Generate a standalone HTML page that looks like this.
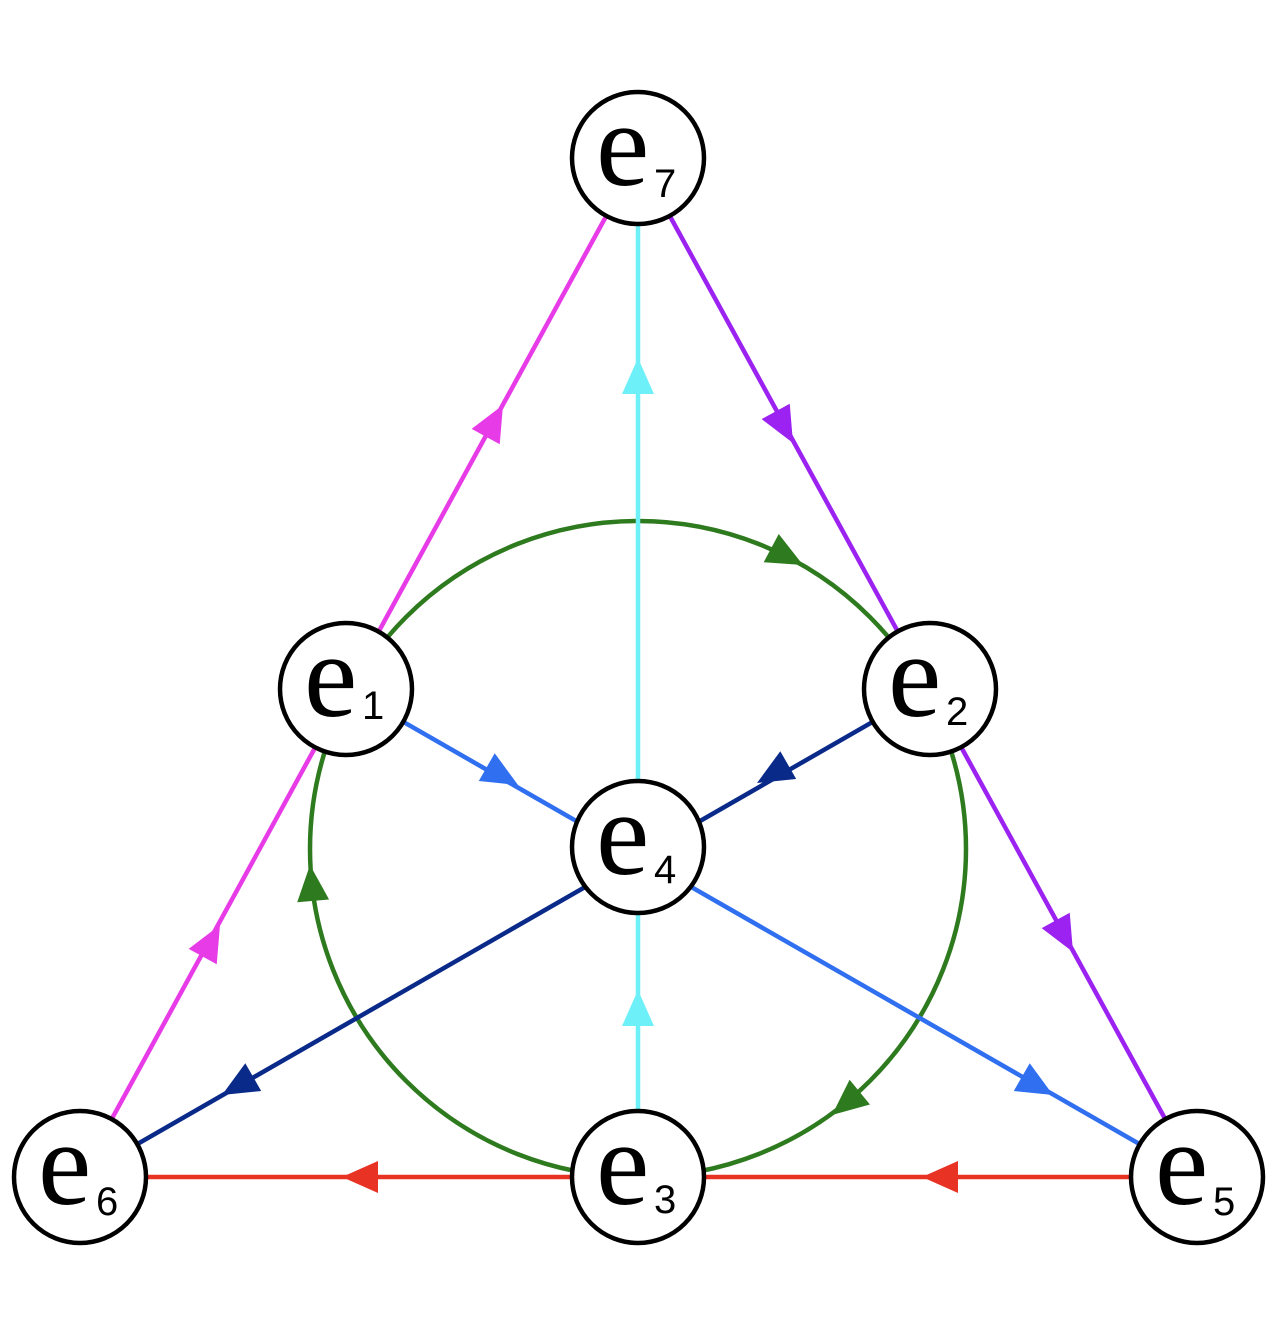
<!DOCTYPE html>
<html><head><meta charset="utf-8"><style>
html,body{margin:0;padding:0;background:#fff;}
svg{display:block;}
.e{font-family:"Liberation Serif",serif;font-size:120px;}
.s{font-family:"Liberation Sans",sans-serif;font-size:40px;}
</style></head><body>
<svg width="1280" height="1328" viewBox="0 0 1280 1328" xmlns="http://www.w3.org/2000/svg">
<defs>
<polygon id="ah" points="0,0 -36,-16 -36,16"/>
</defs>
<g stroke-width="4.5" fill="none">
<circle cx="638" cy="849" r="328" stroke="#2e7a1e"/>
<line x1="80" y1="1177" x2="638" y2="158" stroke="#e83be8"/>
<line x1="638" y1="158" x2="1197" y2="1177" stroke="#9b22f0"/>
<line x1="638" y1="1177" x2="638" y2="158" stroke="#6ef0f8"/>
<line x1="346" y1="689" x2="1197" y2="1177" stroke="#2f6ff0"/>
<line x1="930" y1="689" x2="80" y2="1177" stroke="#0a2a8a"/>
<line x1="80" y1="1177" x2="1197" y2="1177" stroke="#e83224"/>
</g>
<g>
<use href="#ah" fill="#e83be8" transform="translate(503,405) rotate(-61.3)"/>
<use href="#ah" fill="#e83be8" transform="translate(220,925) rotate(-61.3)"/>
<use href="#ah" fill="#6ef0f8" transform="translate(638,358) rotate(-90)"/>
<use href="#ah" fill="#6ef0f8" transform="translate(638,990) rotate(-90)"/>
<use href="#ah" fill="#9b22f0" transform="translate(793,443) rotate(61.3)"/>
<use href="#ah" fill="#9b22f0" transform="translate(1073,952) rotate(61.3)"/>
<use href="#ah" fill="#2f6ff0" transform="translate(518,785) rotate(29.8)"/>
<use href="#ah" fill="#2f6ff0" transform="translate(1053,1095) rotate(29.8)"/>
<use href="#ah" fill="#0a2a8a" transform="translate(757,783) rotate(150.2)"/>
<use href="#ah" fill="#0a2a8a" transform="translate(222,1095) rotate(150.2)"/>
<use href="#ah" fill="#e83224" transform="translate(342,1177) rotate(180)"/>
<use href="#ah" fill="#e83224" transform="translate(922,1177) rotate(180)"/>
<use href="#ah" fill="#2e7a1e" transform="translate(803,565) rotate(28)"/>
<use href="#ah" fill="#2e7a1e" transform="translate(832,1115) rotate(140.5)"/>
<use href="#ah" fill="#2e7a1e" transform="translate(310,865) rotate(-95)"/>
</g>
<g fill="#fff" stroke="#000" stroke-width="4.5">
<circle cx="638" cy="158" r="66"/>
<circle cx="346" cy="689" r="66"/>
<circle cx="930" cy="689" r="66"/>
<circle cx="638" cy="847" r="66"/>
<circle cx="80" cy="1177" r="66"/>
<circle cx="638" cy="1177" r="66"/>
<circle cx="1197" cy="1177" r="66"/>
</g>
<g fill="#000">
<text class="e" x="596" y="185">e</text><text class="s" x="654" y="197">7</text>
<text class="e" x="304" y="716">e</text><text class="s" x="362" y="719">1</text>
<text class="e" x="888" y="716">e</text><text class="s" x="946" y="725">2</text>
<text class="e" x="596" y="874">e</text><text class="s" x="654" y="883">4</text>
<text class="e" x="38" y="1204">e</text><text class="s" x="96" y="1215">6</text>
<text class="e" x="596" y="1204">e</text><text class="s" x="654" y="1213">3</text>
<text class="e" x="1155" y="1204">e</text><text class="s" x="1213" y="1215">5</text>
</g>
</svg>
</body></html>
